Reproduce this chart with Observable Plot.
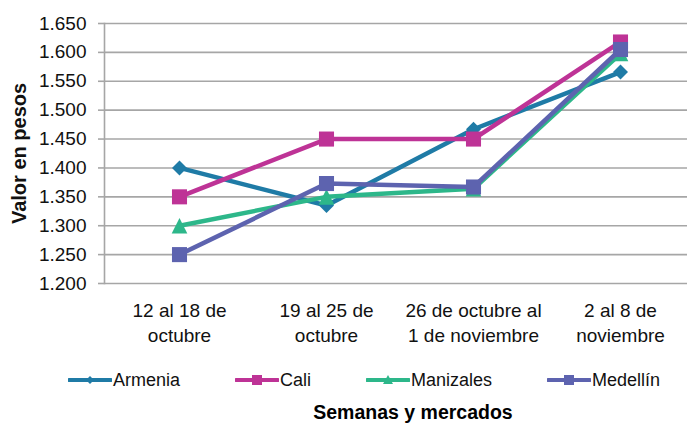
<!DOCTYPE html>
<html>
<head>
<meta charset="utf-8">
<script src="https://cdn.jsdelivr.net/npm/d3@7"></script>
<script src="https://cdn.jsdelivr.net/npm/@observablehq/plot@0.6"></script>
<style>
  html, body { margin: 0; padding: 0; background: #fff; }
  body { width: 687px; height: 423px; overflow: hidden; font-family: "Liberation Sans", Arial, sans-serif; }
  #chart svg { display: block; }
  g[aria-label="y-axis label"] text { font-weight: bold; font-size: 20px; }
  g[aria-label="y-axis tick"] { stroke: #a6a6a6; stroke-width: 1.6; }
  #legend { display: flex; align-items: center; gap: 55px; height: 30px; margin-top: 20px; padding-left: 68px; font-size: 18px; color: #111; }
  #legend .item { display: flex; align-items: center; }
  #legend svg { display: block; margin-right: 1px; }
  #xtitle { height: 24px; line-height: 24px; margin-top: 5px; padding-left: 139px; text-align: center; font-weight: bold; font-size: 19.5px; color: #000; }
</style>
</head>
<body>
<div id="chart"></div>
<div id="legend"></div>
<div id="xtitle"></div>
<script>
// ---- data ----
const weeks = ["12 al 18 de\noctubre", "19 al 25 de\noctubre", "26 de octubre al\n1 de noviembre", "2 al 8 de\nnoviembre"];
const seriesNames = ["Armenia", "Cali", "Manizales", "Medellín"];
const armenia = [1400, 1335, 1467, 1566];
const cali = [1350, 1450, 1450, 1618];
const manizales = [1300, 1350, 1364, 1598];
const medellin = [1250, 1373, 1367, 1605];
const yTicks = [1200, 1250, 1300, 1350, 1400, 1450, 1500, 1550, 1600, 1650];
const yLabel = "Valor en pesos";
const xLabel = "Semanas y mercados";

// ---- styles ----
const colors = {"Armenia": "#1f7ba6", "Cali": "#be3396", "Manizales": "#2db78a", "Medellín": "#5d63af"};
const diamondSym = {draw(ctx, size) { const r = Math.sqrt(size / 2); ctx.moveTo(0, -r); ctx.lineTo(r, 0); ctx.lineTo(0, r); ctx.lineTo(-r, 0); ctx.closePath(); }};
const triangleSym = {draw(ctx, size) { const h = Math.sqrt(size) / 2; ctx.moveTo(0, -h); ctx.lineTo(h, h); ctx.lineTo(-h, h); ctx.closePath(); }};
const symbols = {"Armenia": diamondSym, "Cali": "square", "Manizales": triangleSym, "Medellín": "square"};
const radii = {"Armenia": 6, "Cali": 8.5, "Manizales": 8.8, "Medellín": 8.5};

const valuesBy = {"Armenia": armenia, "Cali": cali, "Manizales": manizales, "Medellín": medellin};
const rows = seriesNames.map(name => weeks.map((w, i) => ({series: name, week: w, value: valuesBy[name][i]})));

const loc = d3.formatLocale({decimal: ",", thousands: ".", grouping: [3], currency: ["$", ""]});
const fmt = loc.format(",d");

const marks = [
  Plot.gridY({ticks: yTicks, stroke: "#a6a6a6", strokeOpacity: 1, strokeWidth: 1.6}),
  Plot.frame({anchor: "left", stroke: "#a6a6a6", strokeWidth: 1.6}),
  Plot.axisY({ticks: yTicks, tickSize: 6, tickPadding: 12, tickFormat: fmt, fontSize: 19, fill: "#111",
    label: yLabel, labelAnchor: "center", labelArrow: "none", labelOffset: 93}),
  Plot.axisX({tickSize: 0, tickPadding: 16, fontSize: 19, lineHeight: 1.3, fill: "#111", label: null})
];
rows.forEach((data, k) => {
  const name = seriesNames[k];
  marks.push(Plot.line(data, {x: "week", y: "value", stroke: colors[name], strokeWidth: 4.5}));
  marks.push(Plot.dot(data, {x: "week", y: "value", symbol: symbols[name], r: radii[name], fill: colors[name], stroke: "none"}));
});

const chart = Plot.plot({
  width: 687,
  height: 345,
  marginTop: 23,
  marginBottom: 62,
  marginLeft: 104,
  marginRight: 0,
  style: {fontFamily: "Liberation Sans, Arial, sans-serif", fontSize: "19px", background: "#fff", color: "#111"},
  x: {type: "point", domain: weeks, padding: 0.5, range: [104, 695]},
  y: {domain: [1200, 1650]},
  marks
});
document.getElementById("chart").append(chart);

// ---- legend ----
const legend = document.getElementById("legend");
const legendMarker = {
  "Armenia": c => `<polygon points="22,3 26,7 22,11 18,7" fill="${c}"/>`,
  "Cali": c => `<rect x="17" y="2" width="10" height="10" fill="${c}"/>`,
  "Manizales": c => `<polygon points="22,2 27,11 17,11" fill="${c}"/>`,
  "Medellín": c => `<rect x="17" y="2" width="10" height="10" fill="${c}"/>`
};
seriesNames.forEach(name => {
  const c = colors[name];
  const item = document.createElement("div");
  item.className = "item";
  item.innerHTML = `<svg width="44" height="14"><line x1="1" x2="43" y1="7" y2="7" stroke="${c}" stroke-width="4" stroke-linecap="round"/>${legendMarker[name](c)}</svg><span>${name}</span>`;
  legend.append(item);
});
document.getElementById("xtitle").textContent = xLabel;
</script>
</body>
</html>
